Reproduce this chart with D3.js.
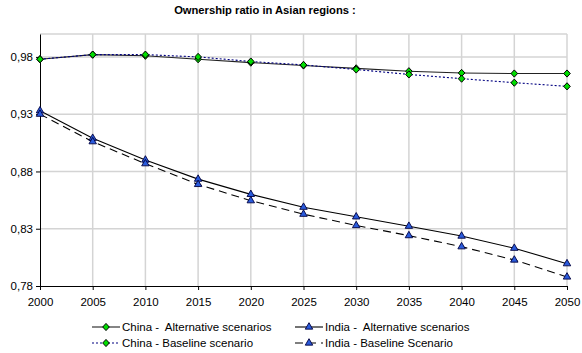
<!DOCTYPE html>
<html>
<head>
<meta charset="utf-8">
<script src="https://cdn.jsdelivr.net/npm/d3@7"></script>
<style>
  body { margin: 0; background: #fff; }
  svg { display: block; font-family: "Liberation Sans", Arial, sans-serif; }
  text { white-space: pre; }
</style>
</head>
<body>
<div id="chart"></div>
<script>
// -------------------- DATA --------------------
const years = [2000, 2005, 2010, 2015, 2020, 2025, 2030, 2035, 2040, 2045, 2050];
const chinaAlt  = [0.978, 0.982, 0.981, 0.978, 0.975, 0.9725, 0.970, 0.9675, 0.966, 0.9655, 0.9655];
const chinaBase = [0.978, 0.982, 0.982, 0.980, 0.976, 0.973, 0.969, 0.9647, 0.961, 0.9575, 0.9543];
const indiaAlt  = [0.933, 0.909, 0.890, 0.8733, 0.860, 0.8488, 0.8404, 0.8322, 0.8236, 0.813, 0.7995];
const indiaBase = [0.930, 0.906, 0.8868, 0.8687, 0.8545, 0.8427, 0.8328, 0.824, 0.8143, 0.8027, 0.7879];
const yTicks = [0.78, 0.83, 0.88, 0.93, 0.98];

const series = [
  { name: "China -  Alternative scenarios", values: chinaAlt, stroke: "#222", dash: null, marker: "diamond" },
  { name: "China - Baseline scenario", values: chinaBase, stroke: "#000080", dash: "2,2", marker: "diamond" },
  { name: "India -  Alternative scenarios", values: indiaAlt, stroke: "#000", dash: null, marker: "triangle" },
  { name: "India - Baseline Scenario", values: indiaBase, stroke: "#000", dash: "8,5", marker: "triangle" }
];

// -------------------- CHART --------------------
const width = 582, height = 353;
const margin = { top: 34, right: 15, bottom: 67, left: 40 };

const svg = d3.select("#chart").append("svg")
  .attr("width", width).attr("height", height);

const x = d3.scaleLinear().domain([2000, 2050]).range([margin.left, width - margin.right]);
const y = d3.scaleLinear().domain([0.78, 1.0]).range([height - margin.bottom, margin.top]);
const fmt = d => d3.format(".2f")(d).replace(".", ",");

svg.append("text")
  .attr("x", 265).attr("y", 14)
  .attr("text-anchor", "middle")
  .attr("font-size", 11.2).attr("font-weight", "bold")
  .text("Ownership ratio in Asian regions :");

// grid
const grid = svg.append("g").attr("stroke", "#d4d4d4").attr("stroke-width", 1.5);
grid.selectAll(".gx").data(years.slice(1)).join("line")
  .attr("x1", d => x(d)).attr("x2", d => x(d))
  .attr("y1", y(1.0)).attr("y2", y(0.78));
grid.selectAll(".gy").data(yTicks.slice(1).concat([1.0])).join("line")
  .attr("x1", x(2000)).attr("x2", x(2050))
  .attr("y1", d => y(d)).attr("y2", d => y(d));

// axes
svg.append("g")
  .attr("transform", `translate(0,${y(0.78)})`)
  .call(d3.axisBottom(x).tickValues(years).tickFormat(d3.format("d")).tickSize(4).tickSizeOuter(0).tickPadding(8))
  .call(g => g.selectAll("text").attr("font-size", 11.5).attr("fill", "#000").attr("font-family", "Liberation Sans, Arial, sans-serif"))
  .call(g => g.selectAll("line, path").attr("stroke", "#000"));

svg.append("g")
  .attr("transform", `translate(${x(2000)},0)`)
  .call(d3.axisLeft(y).tickValues(yTicks).tickFormat(fmt).tickSize(4).tickSizeOuter(0).tickPadding(3))
  .call(g => g.selectAll("text").attr("font-size", 11.5).attr("fill", "#000").attr("font-family", "Liberation Sans, Arial, sans-serif"))
  .call(g => g.selectAll("line, path").attr("stroke", "#000"));

// lines
const line = d3.line().x((d, i) => x(years[i])).y(d => y(d));
const diamondPath = "M0,-3.6L3.3,0L0,3.6L-3.3,0Z";
const triangle = d3.symbol().type(d3.symbolTriangle).size(24);

function drawMarker(g, kind, cx, cy) {
  if (kind === "diamond") {
    g.append("path").attr("d", diamondPath).attr("transform", `translate(${cx},${cy})`)
      .attr("fill", "#00dd00").attr("stroke", "#000").attr("stroke-width", 1)
      .attr("stroke-linejoin", "round");
  } else {
    g.append("path").attr("d", triangle()).attr("transform", `translate(${cx},${cy})`)
      .attr("fill", "#2a5bdc").attr("stroke", "#000040").attr("stroke-width", 0.9);
  }
}

for (const s of series) {
  svg.append("path")
    .datum(s.values)
    .attr("fill", "none")
    .attr("stroke", s.stroke)
    .attr("stroke-width", 1.1)
    .attr("stroke-dasharray", s.dash)
    .attr("d", line);
}
for (const s of series) {
  const g = svg.append("g");
  s.values.forEach((v, i) => drawMarker(g, s.marker, x(years[i]), y(v)));
}

// legend
const legendPos = [[92, 327], [92, 343], [295, 327], [295, 343]];
series.forEach((s, i) => {
  const [lx, ly] = legendPos[i];
  const g = svg.append("g");
  g.append("line")
    .attr("x1", lx).attr("x2", lx + 28).attr("y1", ly).attr("y2", ly)
    .attr("stroke", s.stroke).attr("stroke-width", 1.1)
    .attr("stroke-dasharray", s.dash);
  drawMarker(g, s.marker, lx + 14, ly);
  g.append("text")
    .attr("x", lx + 30).attr("y", ly + 4)
    .attr("font-size", 11.5)
    .attr("xml:space", "preserve")
    .text(s.name);
});
</script>
</body>
</html>
